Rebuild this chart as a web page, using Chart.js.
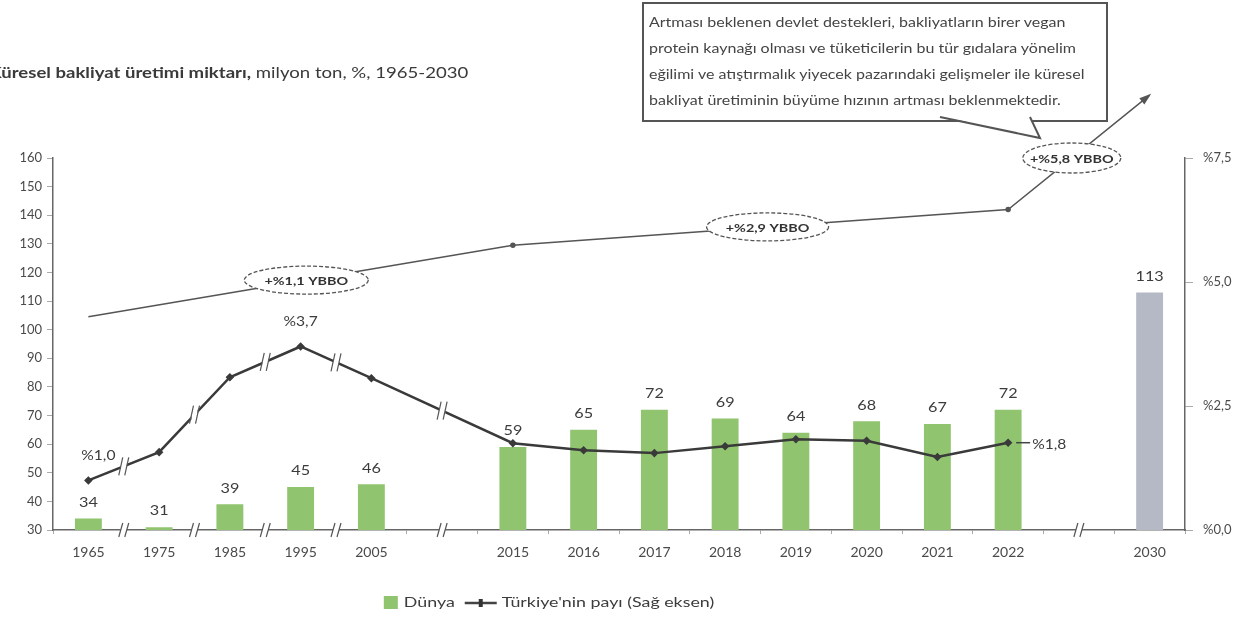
<!DOCTYPE html>
<html lang="tr">
<head>
<meta charset="utf-8">
<title>Küresel bakliyat üretimi</title>
<script src="https://cdn.jsdelivr.net/npm/chart.js@4.4.1/dist/chart.umd.min.js"></script>
<style>
  html, body { margin: 0; padding: 0; background: #fff; }
  #kutu { position: relative; width: 1247px; height: 620px; overflow: hidden; font-family: Lato, 'Open Sans', sans-serif; }
  #grafik { position: absolute; left: 0; top: 0; }
  #baslik { position: absolute; left: -11px; top: 62px; font-size: 16px; color: #3a3a3a; white-space: nowrap;
            transform: scaleX(1.16); transform-origin: left top; }
  #not { position: absolute; left: 642px; top: 2px; width: 452px; height: 108px; border: 2px solid #555; background: #fff;
         padding: 5px 5px 3px 5px; font-size: 13px; line-height: 26px; color: #444; white-space: nowrap; }
  #not div { transform: scaleX(1.23); transform-origin: left center; }
  #isaret { position: absolute; left: 0; top: 0; pointer-events: none; }
</style>
</head>
<body>
<div id="kutu">
  <canvas id="grafik" width="1247" height="620"></canvas>
  <div id="baslik"><b>Küresel bakliyat üretimi miktarı,</b> milyon ton, %, 1965-2030</div>
  <div id="not">
    <div>Artması beklenen devlet destekleri, bakliyatların birer vegan</div>
    <div>protein kaynağı olması ve tüketicilerin bu tür gıdalara yönelim</div>
    <div>eğilimi ve atıştırmalık yiyecek pazarındaki  gelişmeler ile küresel</div>
    <div>bakliyat üretiminin büyüme hızının artması beklenmektedir.</div>
  </div>
  <svg id="isaret" width="1247" height="620">
    <polygon points="940,116 1030,116 1040,138" fill="#fff" />
    <polyline points="940,117 1040,138 1030,117" fill="none" stroke="#555" stroke-width="2" />
  </svg>
</div>
<script>
// Veriler
const yillar = ['1965', '1975', '1985', '1995', '2005', '', '2015', '2016', '2017', '2018', '2019', '2020', '2021', '2022', '', '2030'];
const dunyaUretim = [34, 31, 39, 45, 46, null, 59, 65, 72, 69, 64, 68, 67, 72, null, 113];
const turkiyePayi = [1.0, 1.57, 3.08, 3.7, 3.06, null, 1.75, 1.61, 1.55, 1.69, 1.83, 1.8, 1.47, 1.76, null, null];
const egilim = [104.5, null, null, null, null, null, 129.5, null, null, null, null, null, null, 142, null, 182];
const ybboEtiketleri = ['+%1,1 YBBO', '+%2,9 YBBO', '+%5,8 YBBO'];

const YAZI = "Lato, 'Open Sans', sans-serif";
const GERME = 1.2; // yazılar resimde yatay olarak biraz geniş
const yesil = '#90c46f';
const gri = '#b5b9c6';

function yuzde(v) {
    return '%' + v.toFixed(1).replace('.', ',');
}

// yatay gerilmiş yazı
function yaz(ctx, metin, x, y) {
    ctx.save();
    ctx.translate(x, y);
    ctx.scale(GERME, 1);
    ctx.fillText(metin, 0, 0);
    ctx.restore();
}

// "//" kırık işareti
function kirik(ctx, x, y, boy) {
    ctx.save();
    ctx.fillStyle = '#fff';
    ctx.fillRect(x - 3, y - boy / 2 + 2, 6, boy - 4);
    ctx.strokeStyle = '#555';
    ctx.lineWidth = 1.2;
    [-3, 3].forEach(dx => {
        ctx.beginPath();
        ctx.moveTo(x + dx - 2, y + boy / 2);
        ctx.lineTo(x + dx + 2, y - boy / 2);
        ctx.stroke();
    });
    ctx.restore();
}

// Çizgi üzerinde x konumundaki y değerini bul
function cizgiY(noktalar, x) {
    for (let i = 0; i < noktalar.length - 1; i++) {
        const a = noktalar[i], b = noktalar[i + 1];
        if (x >= a.x && x <= b.x) return a.y + (b.y - a.y) * (x - a.x) / (b.x - a.x);
    }
    return noktalar[noktalar.length - 1].y;
}

const ekler = {
    id: 'ekler',
    afterDatasetsDraw(chart) {
        const ctx = chart.ctx;
        const xs = chart.scales.x;
        const alt = chart.chartArea.bottom;

        // eksen kırıkları
        [0.5, 1.5, 2.5, 3.5, 5, 14].forEach(k => kirik(ctx, xs.getPixelForValue(k), alt, 14));

        // Türkiye çizgisi kırıkları
        const cizgi = chart.getDatasetMeta(1).data.filter((p, i) => turkiyePayi[i] !== null);
        [0.5, 1.5, 2.5, 3.5, 5].forEach(k => {
            const x = xs.getPixelForValue(k);
            kirik(ctx, x, cizgiY(cizgi, x), 18);
        });

        // çubuk değerleri
        ctx.save();
        ctx.font = '13.5px ' + YAZI;
        ctx.fillStyle = '#3c3c3c';
        ctx.textAlign = 'center';
        ctx.textBaseline = 'middle';
        chart.getDatasetMeta(0).data.forEach((bar, i) => {
            if (dunyaUretim[i] === null) return;
            yaz(ctx, dunyaUretim[i], bar.x, bar.y - 16);
        });

        // Türkiye payı etiketleri: ilk, en yüksek, son
        const noktalar = chart.getDatasetMeta(1).data;
        const dolu = turkiyePayi.map((v, i) => i).filter(i => turkiyePayi[i] !== null);
        const ilk = dolu[0], son = dolu[dolu.length - 1];
        const enYuksek = dolu.reduce((m, i) => turkiyePayi[i] > turkiyePayi[m] ? i : m, ilk);
        ctx.font = '13px ' + YAZI;
        yaz(ctx, yuzde(turkiyePayi[ilk]), noktalar[ilk].x + 10, noktalar[ilk].y - 25);
        yaz(ctx, yuzde(turkiyePayi[enYuksek]), noktalar[enYuksek].x, noktalar[enYuksek].y - 25);
        const p = noktalar[son];
        ctx.strokeStyle = '#444';
        ctx.lineWidth = 1.5;
        ctx.beginPath();
        ctx.moveTo(p.x + 8, p.y);
        ctx.lineTo(p.x + 22, p.y);
        ctx.stroke();
        ctx.textAlign = 'left';
        yaz(ctx, yuzde(turkiyePayi[son]), p.x + 24, p.y + 2);

        // eğilim oku ucu
        const egilimNok = chart.getDatasetMeta(2).data.filter((q, i) => egilim[i] !== null);
        const u = egilimNok[egilimNok.length - 1], o = egilimNok[egilimNok.length - 2];
        const aci = Math.atan2(u.y - o.y, u.x - o.x);
        ctx.fillStyle = '#555';
        ctx.beginPath();
        ctx.moveTo(u.x + 2 * Math.cos(aci), u.y + 2 * Math.sin(aci));
        ctx.lineTo(u.x - 10 * Math.cos(aci) - 4 * Math.sin(aci), u.y - 10 * Math.sin(aci) + 4 * Math.cos(aci));
        ctx.lineTo(u.x - 10 * Math.cos(aci) + 4 * Math.sin(aci), u.y - 10 * Math.sin(aci) - 4 * Math.cos(aci));
        ctx.closePath();
        ctx.fill();

        // YBBO elipsleri
        const konum = [3.08, 9.6, 13.9];
        const yaricap = [[62, 14], [61, 14], [49, 15]];
        ctx.font = 'bold 12px ' + YAZI;
        ctx.textAlign = 'center';
        ybboEtiketleri.forEach((t, i) => {
            const x = xs.getPixelForValue(konum[i]);
            const y = cizgiY(egilimNok, x);
            ctx.beginPath();
            ctx.ellipse(x, y, yaricap[i][0], yaricap[i][1], 0, 0, Math.PI * 2);
            ctx.fillStyle = '#fff';
            ctx.fill();
            ctx.setLineDash([4, 2]);
            ctx.strokeStyle = '#555';
            ctx.lineWidth = 1.3;
            ctx.stroke();
            ctx.setLineDash([]);
            ctx.fillStyle = '#333';
            yaz(ctx, t, x, y + 1);
        });
        ctx.restore();
    },
    afterDraw(chart) {
        // alt açıklama
        const ctx = chart.ctx;
        const e1 = chart.data.datasets[0].label, e2 = chart.data.datasets[1].label;
        ctx.save();
        ctx.font = '13.5px ' + YAZI;
        const w1 = ctx.measureText(e1).width * GERME * 1.1, w2 = ctx.measureText(e2).width * GERME * 1.1;
        const toplam = 14 + 7 + w1 + 10 + 32 + 6 + w2;
        let x = 550 - toplam / 2;
        const y = 603;
        ctx.fillStyle = yesil;
        ctx.fillRect(x, y - 7, 14, 13);
        ctx.fillStyle = '#3c3c3c';
        ctx.textBaseline = 'middle';
        ctx.save();
        ctx.translate(x + 20, y);
        ctx.scale(GERME * 1.1, 1);
        ctx.fillText(e1, 0, 0);
        ctx.restore();
        x += 20 + w1 + 10;
        ctx.strokeStyle = '#444';
        ctx.lineWidth = 2.5;
        ctx.beginPath();
        ctx.moveTo(x, y);
        ctx.lineTo(x + 32, y);
        ctx.stroke();
        ctx.fillStyle = '#333';
        ctx.fillRect(x + 14, y - 4, 4, 8);
        ctx.fillStyle = '#3c3c3c';
        ctx.translate(x + 37, y);
        ctx.scale(GERME * 1.1, 1);
        ctx.fillText(e2, 0, 0);
        ctx.restore();
    }
};

new Chart(document.getElementById('grafik'), {
    type: 'bar',
    data: {
        labels: yillar,
        datasets: [
            {
                label: 'Dünya',
                data: dunyaUretim,
                yAxisID: 'y',
                backgroundColor: dunyaUretim.map((v, i) => i === dunyaUretim.length - 1 ? gri : yesil),
                categoryPercentage: 1,
                barPercentage: 0.38,
                order: 3
            },
            {
                type: 'line',
                label: "Türkiye'nin payı (Sağ eksen)",
                data: turkiyePayi,
                yAxisID: 'y1',
                borderColor: '#3a3a3a',
                backgroundColor: '#3a3a3a',
                borderWidth: 2.5,
                pointStyle: 'rectRot',
                pointRadius: 2.5,
                spanGaps: true,
                tension: 0,
                order: 1
            },
            {
                type: 'line',
                label: 'Eğilim',
                data: egilim,
                yAxisID: 'y',
                borderColor: '#555',
                backgroundColor: '#555',
                borderWidth: 1.5,
                pointRadius: egilim.map((v, i) => (i === 6 || i === 13) ? 2 : 0),
                spanGaps: true,
                clip: false,
                order: 2
            }
        ]
    },
    options: {
        responsive: false,
        animation: false,
        layout: { padding: { top: 158, left: 0, right: 0, bottom: 0 } },
        plugins: {
            legend: { display: false },
            tooltip: { enabled: false }
        },
        scales: {
            x: {
                afterFit: s => { s.height = 90; },
                grid: { display: true, drawOnChartArea: false, offset: true, tickLength: 4, color: '#aaa' },
                border: { color: '#666', width: 1.5 },
                ticks: { color: '#4a4a4a', font: { family: YAZI, size: 14 }, padding: 10, autoSkip: false, maxRotation: 0 }
            },
            y: {
                position: 'left',
                min: 30,
                max: 160,
                afterFit: s => { s.width = 53; },
                grid: { drawOnChartArea: false, tickLength: 6, color: '#aaa' },
                border: { color: '#666', width: 1.5 },
                ticks: { stepSize: 10, color: '#4a4a4a', font: { family: YAZI, size: 13 }, padding: 5 }
            },
            y1: {
                position: 'right',
                min: 0,
                max: 7.5,
                afterFit: s => { s.width = 62; },
                grid: { drawOnChartArea: false, tickLength: 8, color: '#aaa' },
                border: { color: '#666', width: 1.5 },
                ticks: { stepSize: 2.5, color: '#4a4a4a', font: { family: YAZI, size: 13 }, padding: 10, callback: v => yuzde(v) }
            }
        }
    },
    plugins: [ekler]
});
</script>
</body>
</html>
